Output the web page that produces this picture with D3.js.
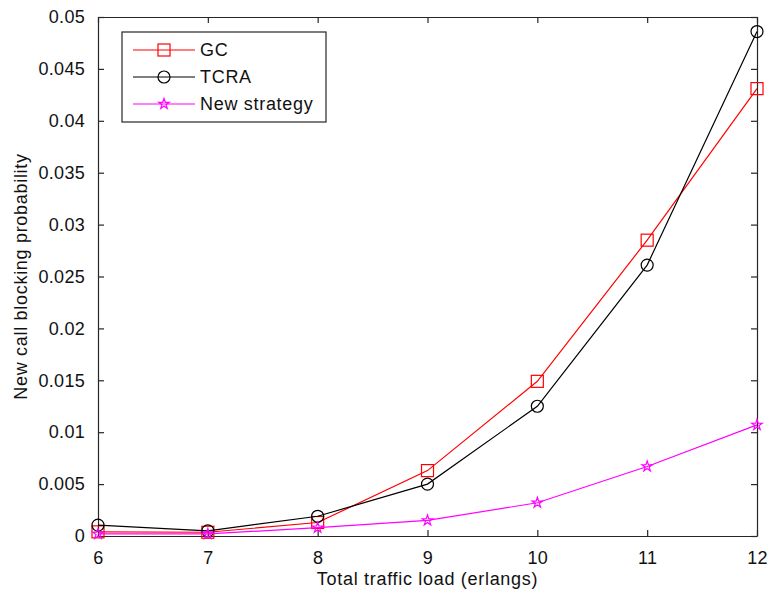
<!DOCTYPE html>
<html>
<head>
<meta charset="utf-8">
<script src="https://cdn.jsdelivr.net/npm/d3@7"></script>
<style>
  body { margin: 0; background: #fff; }
  svg text { font-family: "Liberation Sans", Arial, sans-serif; font-size: 18px; letter-spacing: 0.7px; fill: #111; }
  svg .tick text { letter-spacing: 0.3px; }
</style>
</head>
<body>
<svg id="chart" width="768" height="594"></svg>
<script>
const loads = [6, 7, 8, 9, 10, 11, 12];
const gcValues = [0.0004, 0.00036, 0.0013, 0.0063, 0.0149, 0.0285, 0.0431];
const tcraValues = [0.00105, 0.0005, 0.0019, 0.0050, 0.0125, 0.0261, 0.0486];
const newValues = [0.0002, 0.0002, 0.0008, 0.0015, 0.0032, 0.0067, 0.0107];
const yTicks = [0, 0.005, 0.01, 0.015, 0.02, 0.025, 0.03, 0.035, 0.04, 0.045, 0.05];
const seriesNames = ['GC', 'TCRA', 'New strategy'];

const series = [
  { name: seriesNames[0], values: gcValues, color: '#ff0000', marker: 'square' },
  { name: seriesNames[1], values: tcraValues, color: '#000000', marker: 'circle' },
  { name: seriesNames[2], values: newValues, color: '#ff00ff', marker: 'star' }
];

const PAD = { left: 98, right: 11, top: 17, bottom: 58 };
const W = 768, H = 594;
const AXIS_COLOR = '#262626';

const svg = d3.select('#chart');

const x = d3.scaleLinear()
  .domain([6, 12])
  .range([PAD.left, W - PAD.right]);

const y = d3.scaleLinear()
  .domain([0, 0.05])
  .range([H - PAD.bottom, PAD.top]);

const fmt = d => d === 0 ? '0' : String(+d.toFixed(3));

// axes (ticks pointing inward, mirrored on top/right)
svg.append('g')
  .attr('class', 'axis-x')
  .attr('transform', 'translate(0,' + y(0) + ')')
  .call(d3.axisBottom(x).tickValues(loads).tickSizeInner(-6).tickSizeOuter(0).tickPadding(13).tickFormat(d3.format('d')));

svg.append('g')
  .attr('transform', 'translate(0,' + y(0.05) + ')')
  .call(d3.axisTop(x).tickValues(loads).tickSizeInner(-6).tickSizeOuter(0).tickFormat(''));

svg.append('g')
  .attr('class', 'axis-y')
  .attr('transform', 'translate(' + x(6) + ',0)')
  .call(d3.axisLeft(y).tickValues(yTicks).tickSizeInner(-6).tickSizeOuter(0).tickPadding(13).tickFormat(fmt));

svg.append('g')
  .attr('transform', 'translate(' + x(12) + ',0)')
  .call(d3.axisRight(y).tickValues(yTicks).tickSizeInner(-6).tickSizeOuter(0).tickFormat(''));

svg.selectAll('.domain').attr('stroke', AXIS_COLOR).attr('stroke-width', 1.2);
svg.selectAll('.tick line').attr('stroke', AXIS_COLOR).attr('stroke-width', 1.2);
svg.selectAll('.tick text')
  .attr('font-family', null)
  .attr('font-size', null)
  .attr('fill', null);
svg.selectAll('.axis-x .tick text').attr('dy', '0.85em');

// axis titles
svg.append('text')
  .attr('x', (x(6) + x(12)) / 2)
  .attr('y', 585)
  .attr('text-anchor', 'middle')
  .text('Total traffic load (erlangs)');

svg.append('text')
  .attr('transform', 'translate(27,' + ((y(0) + y(0.05)) / 2) + ') rotate(-90)')
  .attr('text-anchor', 'middle')
  .text('New call blocking probability');

// markers
function drawMarker(g, type, color) {
  if (type === 'square') {
    g.append('rect')
      .attr('x', -6).attr('y', -6)
      .attr('width', 12).attr('height', 12)
      .attr('fill', 'none').attr('stroke', color).attr('stroke-width', 1.2);
  } else if (type === 'circle') {
    g.append('circle')
      .attr('r', 6)
      .attr('fill', 'none').attr('stroke', color).attr('stroke-width', 1.2);
  } else {
    g.append('path')
      .attr('d', d3.symbol(d3.symbolStar, 34)())
      .attr('fill', 'none').attr('stroke', color).attr('stroke-width', 1.2);
  }
}

const line = d3.line()
  .x((d, i) => x(loads[i]))
  .y(d => y(d));

series.forEach(s => {
  const g = svg.append('g').attr('class', 'series');
  g.append('path')
    .datum(s.values)
    .attr('d', line)
    .attr('fill', 'none')
    .attr('stroke', s.color)
    .attr('stroke-width', 1.2);
  g.selectAll('g.mk')
    .data(s.values)
    .enter()
    .append('g')
    .attr('class', 'mk')
    .attr('transform', (d, i) => 'translate(' + x(loads[i]) + ',' + y(d) + ')')
    .each(function () { drawMarker(d3.select(this), s.marker, s.color); });
});

// legend
const legend = svg.append('g')
  .attr('class', 'legend')
  .attr('transform', 'translate(122,32)');

legend.append('rect')
  .attr('width', 204)
  .attr('height', 90)
  .attr('fill', '#fff')
  .attr('stroke', AXIS_COLOR)
  .attr('stroke-width', 1.2);

series.forEach((s, i) => {
  const row = legend.append('g')
    .attr('transform', 'translate(0,' + (18 + i * 27) + ')');
  row.append('line')
    .attr('x1', 11).attr('x2', 73)
    .attr('stroke', s.color).attr('stroke-width', 1.2);
  const mk = row.append('g').attr('transform', 'translate(42,0)');
  drawMarker(mk, s.marker, s.color);
  row.append('text')
    .attr('x', 78)
    .attr('dy', '0.35em')
    .text(s.name);
});
</script>
</body>
</html>
